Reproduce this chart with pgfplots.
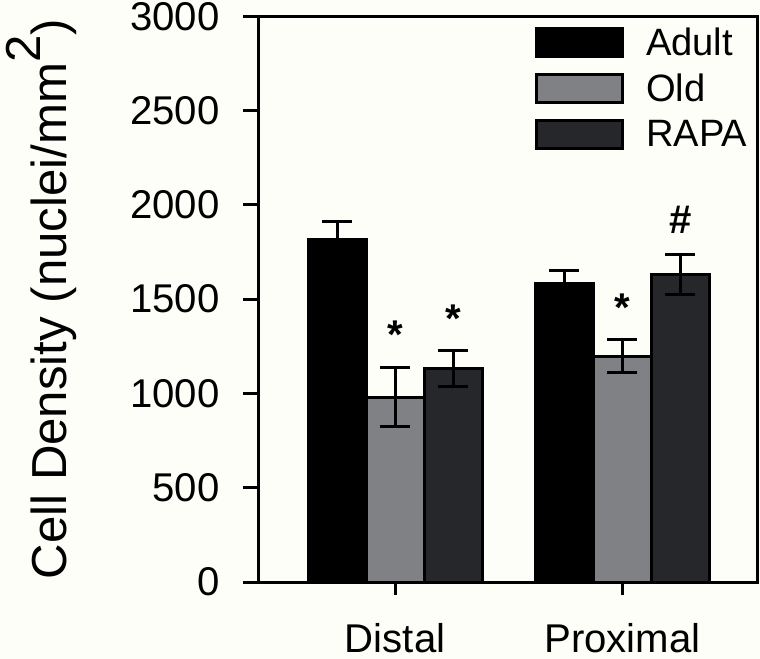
\documentclass[border=0pt]{standalone}
\usepackage{pgfplots}
\pgfplotsset{compat=1.18}
\usepackage{fontspec}
\setmainfont{Liberation Sans}
\usetikzlibrary{backgrounds}

\definecolor{oldgray}{RGB}{128,129,133}
\definecolor{rapagray}{RGB}{38,39,43}
\definecolor{bgcream}{RGB}{254,254,249}

\begin{document}
\begin{tikzpicture}
\begin{axis}[
    scale only axis,
    width=497pt, height=564pt,
    ybar=0pt, bar width=0.255,
    xmin=-0.6, xmax=1.595,
    ymin=0, ymax=3000,
    xtick={0,1}, xticklabels={Distal,Proximal},
    ytick={0,500,...,3000},
    xtick pos=bottom, ytick pos=left,
    tick align=outside,
    major tick length=16pt,
    axis line style={line width=3pt},
    every tick/.style={black, line width=3pt},
    xtick style={/pgfplots/major tick length=13pt},
    /pgf/number format/assume math mode=true,
    /pgf/number format/1000 sep={},
    ticklabel style={font=\fontsize{40}{48}\selectfont},
    yticklabel style={inner sep=0pt, xshift=-23pt},
    xticklabel style={inner sep=0pt, yshift=-25pt},
    ylabel={Cell Density (nuclei/mm\raisebox{0.53em}{2})},
    ylabel style={font=\fontsize{49}{58}\selectfont, at={(axis description cs:-0.386,0.5)}, anchor=base, inner sep=0pt},
    legend style={at={(axis description cs:0.553,0.982)}, anchor=north west,
      draw=none, fill=none, inner sep=0pt, row sep=15pt, column sep=22pt,
      nodes={inner sep=0pt}, font=\fontsize{38}{44}\selectfont},
    legend cell align=left,
    legend image code/.code={\draw[#1, draw=black, line width=3pt] (0pt,-14pt) rectangle (86pt,14pt);},
    error bars/error bar style={black, line width=3pt},
    error bars/error mark options={black, rotate=90, mark size=15pt, line width=3pt},
  ]
\addplot[fill=black, draw=black, line width=3pt,
  error bars/.cd, y dir=both, y explicit]
  table[x=x, y=y, y error=e] {
x y e
0 1817 95
1 1585 65
};
\addplot[fill=oldgray, draw=black, line width=3pt,
  error bars/.cd, y dir=both, y explicit]
  table[x=x, y=y, y error=e] {
x y e
0 981 158
1 1197 88
};
\addplot[fill=rapagray, draw=black, line width=3pt,
  error bars/.cd, y dir=both, y explicit]
  table[x=x, y=y, y error=e] {
x y e
0 1132 93
1 1629 106
};
\legend{Adult,Old,RAPA}
\node[font=\fontsize{40}{48}\selectfont\bfseries, anchor=base] at (axis cs:0,1240) {*};
\node[font=\fontsize{40}{48}\selectfont\bfseries, anchor=base] at (axis cs:0.255,1325) {*};
\node[font=\fontsize{40}{48}\selectfont\bfseries, anchor=base] at (axis cs:1,1380) {*};
\node[font=\fontsize{40}{48}\selectfont\bfseries, anchor=base] at (axis cs:1.255,1850) {\#};
\end{axis}
\begin{scope}[on background layer]
\fill[bgcream] ([shift={(-6pt,-6pt)}]current bounding box.south west) rectangle ([shift={(1pt,2pt)}]current bounding box.north east);
\end{scope}
\end{tikzpicture}
\end{document}
